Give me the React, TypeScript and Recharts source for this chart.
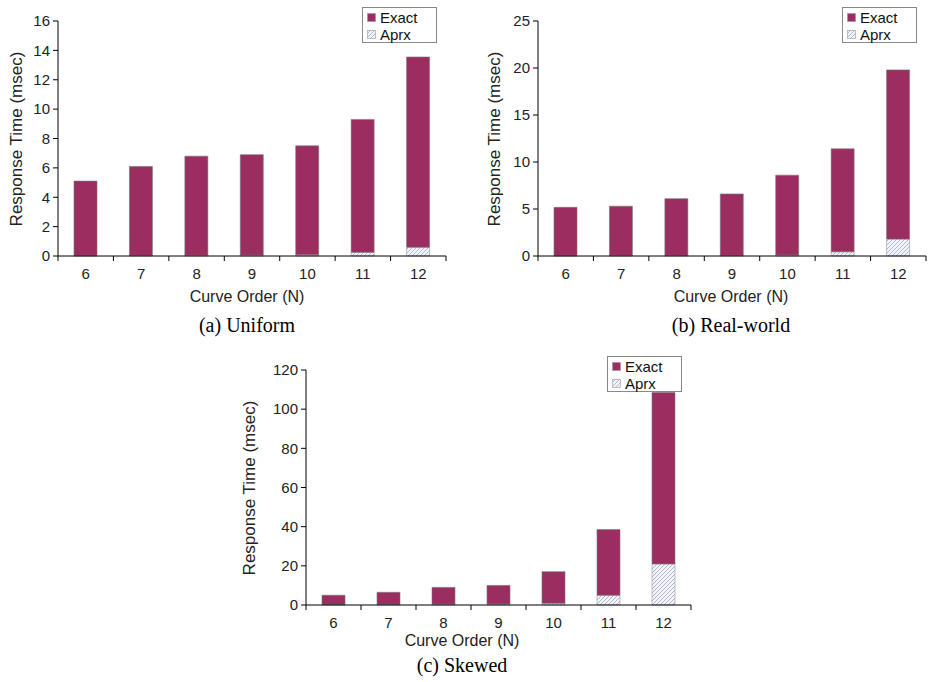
import React from 'react';
import { BarChart, Bar, XAxis, YAxis } from 'recharts';

// curve orders on the x axis
const categories = ['6', '7', '8', '9', '10', '11', '12'];
const seriesNames = ['Exact', 'Aprx'];

// (a) uniform data, msec
const uniformAprx = [0.02, 0.03, 0.05, 0.06, 0.08, 0.25, 0.6];
const uniformExact = [5.08, 6.07, 6.75, 6.84, 7.42, 9.05, 12.95];
const uniformTicks = [0, 2, 4, 6, 8, 10, 12, 14, 16];

// (b) real-world data
const realAprx = [0.03, 0.04, 0.05, 0.06, 0.1, 0.45, 1.8];
const realExact = [5.15, 5.26, 6.05, 6.54, 8.5, 10.95, 18.0];
const realTicks = [0, 5, 10, 15, 20, 25];

// (c) skewed data
const skewAprx = [0.2, 0.3, 0.4, 0.5, 0.9, 5.0, 21.0];
const skewExact = [4.8, 6.2, 8.6, 9.5, 16.1, 33.5, 87.5];
const skewTicks = [0, 20, 40, 60, 80, 100, 120];

const EXACT_COLOR = '#9b2d60';
const SANS = 'Liberation Sans, Arial, sans-serif';
const SERIF = 'Liberation Serif, Times New Roman, serif';

const buildRows = (aprx: number[], exact: number[]) =>
  categories.map((c, i) => ({ order: c, Aprx: aprx[i], Exact: exact[i] }));

// category label plus tick marks on the band edges
const CategoryTick = (props: any) => {
  const { x, y, payload, index, bw } = props;
  const axisY = y - 5;
  return (
    <g>
      {index === 0 && <line x1={x - bw / 2} x2={x - bw / 2} y1={axisY} y2={axisY + 5} stroke="#000" />}
      <line x1={x + bw / 2} x2={x + bw / 2} y1={axisY} y2={axisY + 5} stroke="#000" />
      <text x={x} y={axisY + 23} textAnchor="middle" fontSize={15} fill="#222" fontFamily={SANS}>
        {payload.value}
      </text>
    </g>
  );
};

interface PanelProps {
  id: string;
  left: number;
  top: number;
  width: number;
  marginRight: number;
  aprx: number[];
  exact: number[];
  ticks: number[];
  yTitleX: number;
  xTitleX: number;
  xTitleY: number;
  caption: string;
  captionY: number;
}

const Panel = (p: PanelProps) => {
  const rows = buildRows(p.aprx, p.exact);
  const plotLeft = 58;
  const plotRight = p.width - p.marginRight;
  const bw = (plotRight - plotLeft) / categories.length;
  const top = p.ticks[p.ticks.length - 1];
  return (
    <div style={{ position: 'absolute', left: p.left, top: p.top, width: p.width, height: 340 }}>
      <BarChart
        width={p.width}
        height={300}
        data={rows}
        margin={{ top: 21, right: p.marginRight, left: 0, bottom: 14 }}
        barCategoryGap={0}
      >
        <defs>
          <pattern id={`hatch-${p.id}`} width={4} height={4} patternUnits="userSpaceOnUse">
            <rect width={4} height={4} fill="#f3f4f9" />
            <path d="M-1,1 l2,-2 M0,4 l4,-4 M3,5 l2,-2" stroke="#a0a6c4" strokeWidth={0.8} />
          </pattern>
        </defs>
        <XAxis
          dataKey="order"
          height={30}
          tickSize={5}
          tickMargin={0}
          tickLine={false}
          axisLine={{ stroke: '#000' }}
          interval={0}
          tick={(t: any) => <CategoryTick {...t} bw={bw} />}
        />
        <YAxis
          width={58}
          domain={[0, top]}
          ticks={p.ticks}
          interval={0}
          tickSize={5}
          tickMargin={3}
          axisLine={{ stroke: '#000' }}
          tickLine={{ stroke: '#000' }}
          tick={{ fontSize: 15, fill: '#222', fontFamily: SANS }}
        />
        <Bar dataKey="Aprx" stackId="s" barSize={23} fill={`url(#hatch-${p.id})`} stroke="#999" strokeWidth={0.6} isAnimationActive={false} />
        <Bar dataKey="Exact" stackId="s" barSize={23} fill={EXACT_COLOR} stroke="#777" strokeWidth={0.6} isAnimationActive={false} />
      </BarChart>

      {/* legend box */}
      <div
        style={{
          position: 'absolute',
          left: plotRight - 84,
          top: 7,
          width: 75,
          height: 36,
          border: '1px solid #888',
          background: '#fff',
          fontFamily: SANS,
          fontSize: 15,
          lineHeight: '17px',
          color: '#111',
          paddingTop: 1,
          boxSizing: 'border-box',
        }}
      >
        {seriesNames.map((name) => (
          <div key={name} style={{ display: 'flex', alignItems: 'center', paddingLeft: 4 }}>
            <svg width={9} height={9} style={{ marginRight: 4 }}>
              <rect
                x={0.5}
                y={0.5}
                width={8}
                height={8}
                fill={name === 'Exact' ? EXACT_COLOR : `url(#hatch-${p.id})`}
                stroke="#999"
                strokeWidth={0.6}
              />
            </svg>
            {name}
          </div>
        ))}
      </div>

      <div
        style={{
          position: 'absolute',
          left: p.yTitleX,
          top: 21 + 235 / 2 - 15,
          transform: 'translate(-50%, 0) rotate(-90deg)',
          transformOrigin: '50% 50%',
          whiteSpace: 'nowrap',
          fontFamily: SANS,
          fontSize: 17,
          lineHeight: '30px',
          height: 30,
          color: '#222',
        }}
      >
        Response Time (msec)
      </div>
      <div
        style={{
          position: 'absolute',
          left: p.xTitleX,
          top: p.xTitleY - 10,
          transform: 'translateX(-50%)',
          whiteSpace: 'nowrap',
          fontFamily: SANS,
          fontSize: 16,
          lineHeight: '20px',
          color: '#222',
        }}
      >
        Curve Order (N)
      </div>
      <div
        style={{
          position: 'absolute',
          left: p.xTitleX,
          top: p.captionY - 12,
          transform: 'translateX(-50%)',
          whiteSpace: 'nowrap',
          fontFamily: SERIF,
          fontSize: 20,
          lineHeight: '24px',
          color: '#000',
        }}
      >
        {p.caption}
      </div>
    </div>
  );
};

export default function App() {
  return (
    <div style={{ position: 'absolute', left: 0, top: 0, width: 929, height: 682, overflow: 'hidden', background: '#fff' }}>
      <Panel
        id="a"
        left={0}
        top={0}
        width={460}
        marginRight={14}
        aprx={uniformAprx}
        exact={uniformExact}
        ticks={uniformTicks}
        yTitleX={17}
        xTitleX={247}
        xTitleY={297}
        caption="(a) Uniform"
        captionY={325}
      />
      <Panel
        id="b"
        left={480}
        top={0}
        width={449}
        marginRight={3}
        aprx={realAprx}
        exact={realExact}
        ticks={realTicks}
        yTitleX={15}
        xTitleX={251}
        xTitleY={297}
        caption="(b) Real-world"
        captionY={325}
      />
      <Panel
        id="c"
        left={248}
        top={349}
        width={458}
        marginRight={15}
        aprx={skewAprx}
        exact={skewExact}
        ticks={skewTicks}
        yTitleX={2}
        xTitleX={214}
        xTitleY={292}
        caption="(c) Skewed"
        captionY={316}
      />
    </div>
  );
}
